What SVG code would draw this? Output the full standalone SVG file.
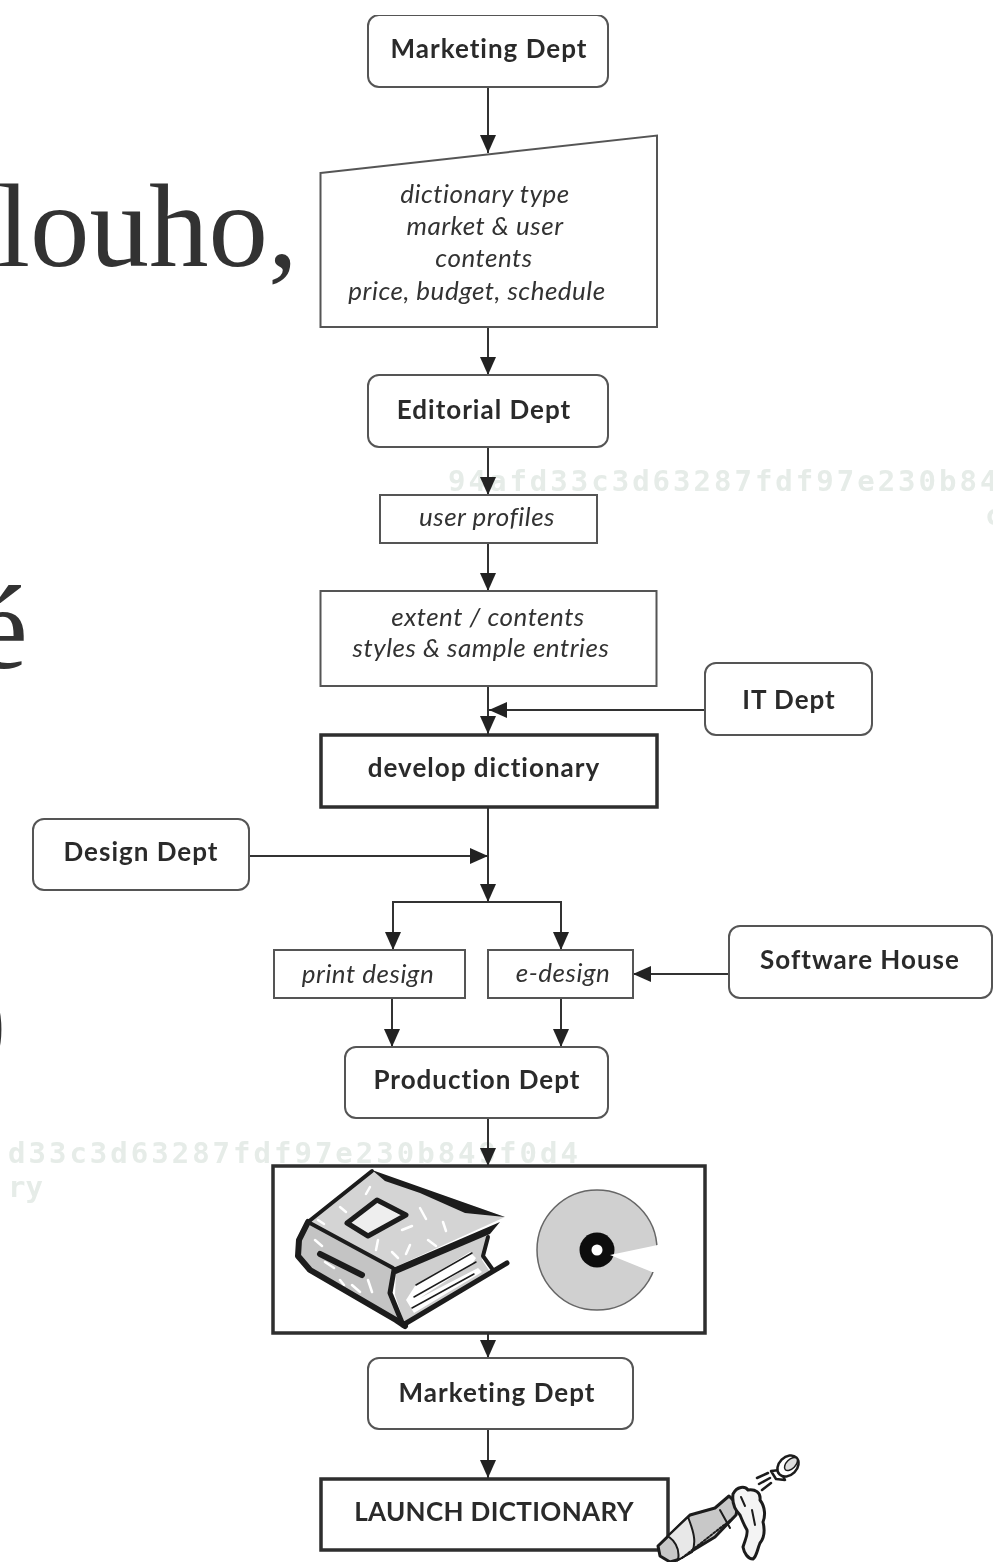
<svg xmlns="http://www.w3.org/2000/svg" width="993" height="1567" viewBox="0 0 993 1567">
<style>
.bg{font-family:"Liberation Serif",serif;font-size:119px;fill:#333}
.wm{font-family:"DejaVu Sans Mono",monospace;font-weight:700;font-size:29px;fill:#e6ece8;letter-spacing:3px}
.n{fill:#fff;stroke:#555;stroke-width:2}
.t{fill:#fff;stroke:#2e2e2e;stroke-width:3.5}
.b{font-family:Lato,"Liberation Sans",sans-serif;font-weight:700;font-size:26px;letter-spacing:1px;fill:#2c2c2c;text-anchor:middle}
.i{font-family:Lato,"Liberation Sans",sans-serif;font-style:italic;font-size:26px;letter-spacing:.5px;fill:#333;text-anchor:middle}
.c{fill:none;stroke:#333;stroke-width:2}
.s{fill:none;stroke:#1c1c1c;stroke-linecap:round;stroke-linejoin:round}
.w{fill:none;stroke:#fff;stroke-width:2.500;stroke-linecap:round}
</style>
<defs>
<marker id="a" markerWidth="20" markerHeight="18" refX="18" refY="8" orient="auto" markerUnits="userSpaceOnUse"><path d="M0 0L18 8L0 16Z" fill="#222"/></marker>
<filter id="soft" x="0" y="0" width="100%" height="100%"><feGaussianBlur stdDeviation="0.6"/></filter>
</defs>
<rect width="993" height="1567" fill="#fff"/>
<g filter="url(#soft)">
<g id="background-text">
<text class="bg" x="-3" y="266">louho,</text>
<text class="bg" x="-25" y="668">é</text>
<text class="bg" x="-33" y="1058">)</text>
<text class="wm" x="448" y="491">94afd33c3d63287fdf97e230b84</text>
<text class="wm" x="985" y="525">c</text>
<text class="wm" x="8" y="1163">d33c3d63287fdf97e230b849f0d4</text>
<text class="wm" x="8" y="1197" style="letter-spacing:0">ry</text>
</g>
<g id="connectors">
<path class="c" marker-end="url(#a)" d="M488 88V153"/>
<path class="c" marker-end="url(#a)" d="M488 327V375"/>
<path class="c" marker-end="url(#a)" d="M488 447V495"/>
<path class="c" marker-end="url(#a)" d="M488 543V591"/>
<path class="c" marker-end="url(#a)" d="M488 686V734"/>
<path class="c" marker-end="url(#a)" d="M705 710H489"/>
<path class="c" marker-end="url(#a)" d="M488 807V902"/>
<path class="c" marker-end="url(#a)" d="M249 856H488"/>
<path class="c" marker-end="url(#a)" d="M488 902H393V950"/>
<path class="c" marker-end="url(#a)" d="M488 902H561V950"/>
<path class="c" marker-end="url(#a)" d="M729 974H633"/>
<path class="c" marker-end="url(#a)" d="M392 998V1047"/>
<path class="c" marker-end="url(#a)" d="M561 998V1047"/>
<path class="c" marker-end="url(#a)" d="M488 1118V1166"/>
<path class="c" marker-end="url(#a)" d="M488 1334V1358"/>
<path class="c" marker-end="url(#a)" d="M488 1430V1478"/>
</g>
<g id="marketing-top"><rect class="n" x="368" y="15" width="240" height="72" rx="11"/><text class="b" x="489" y="58">Marketing Dept</text></g>
<g id="brief"><path class="n" d="M320.500 173L657 135.500V327H320.500Z"/>
<text class="i" x="485" y="203">dictionary type</text><text class="i" x="485" y="235">market &amp; user</text><text class="i" x="484" y="267">contents</text><text class="i" x="477" y="300">price, budget, schedule</text></g>
<g id="editorial"><rect class="n" x="368" y="375" width="240" height="72" rx="11"/><text class="b" x="484" y="419">Editorial Dept</text></g>
<g id="user-profiles"><rect class="n" x="380" y="495" width="217" height="48"/><text class="i" x="487" y="526">user profiles</text></g>
<g id="extent"><rect class="n" x="320.500" y="591" width="336" height="95"/><text class="i" x="488" y="626">extent / contents</text><text class="i" x="481" y="657">styles &amp; sample entries</text></g>
<g id="it-dept"><rect class="n" x="705" y="663" width="167" height="72" rx="11"/><text class="b" x="789" y="709">IT Dept</text></g>
<g id="develop"><rect class="t" x="321" y="735" width="336" height="72"/><text class="b" x="484" y="777">develop dictionary</text></g>
<g id="design-dept"><rect class="n" x="33" y="819" width="216" height="71" rx="11"/><text class="b" x="141" y="861">Design Dept</text></g>
<g id="print-design"><rect class="n" x="274" y="950" width="191" height="48"/><text class="i" x="368" y="983">print design</text></g>
<g id="e-design"><rect class="n" x="488" y="950" width="145" height="48"/><text class="i" x="563" y="982">e-design</text></g>
<g id="software-house"><rect class="n" x="729" y="926" width="263" height="72" rx="11"/><text class="b" x="860" y="969">Software House</text></g>
<g id="production"><rect class="n" x="345" y="1047" width="263" height="71" rx="11"/><text class="b" x="477" y="1089">Production Dept</text></g>
<g id="products"><rect class="t" x="273" y="1166" width="432" height="167"/>
<path d="M372 1171L505 1217L393 1268L308 1222Z" fill="#d4d4d4"/>
<path d="M308 1222L393 1268L392 1295L405 1325L300 1262L298 1248Z" fill="#c4c4c4"/>
<path d="M396 1272L487 1232L482 1260L490 1272L405 1325L395 1295Z" fill="#cfcfcf"/>
<path class="w" d="M370 1187L366 1194M420 1208L426 1219M443 1222L446 1231M402 1230L412 1226M428 1240L436 1246M378 1240L376 1250M410 1245L406 1254M392 1252L398 1258M340 1207L346 1212M318 1220L324 1224"/>
<path d="M415 1286L470 1252L476 1258L472 1264L420 1298L478 1268L482 1272L414 1313L406 1300Z" fill="#fff"/>
<path class="s" stroke-width="1.500" d="M416 1285L472 1253M414 1297L476 1262M412 1308L474 1274"/>
<path class="w" d="M315 1240L322 1246M325 1262L334 1268M352 1285L360 1292M368 1280L372 1292M340 1280L344 1285"/>
<path class="s" stroke-width="4" d="M372 1171L308 1222L393 1268"/>
<path d="M372 1170L505 1217L465 1213L420 1193L385 1181Z" fill="#1c1c1c"/>
<path d="M393 1268L500 1222L490 1234L396 1274Z" fill="#1c1c1c"/>
<path class="s" stroke-width="6" d="M308 1222L299 1240L298 1256L310 1270L396 1320L405 1326"/>
<path class="s" stroke-width="5" d="M394 1270L390 1293L403 1325L507 1263"/>
<path class="s" stroke-width="4" d="M488 1237L483 1256L493 1270"/>
<path fill="#eee" stroke="#1c1c1c" stroke-width="5" stroke-linejoin="round" d="M377 1200L406 1215L368 1236L347 1223Z"/>
<path class="s" stroke-width="6" d="M320 1254L362 1275"/>
<circle cx="597" cy="1250" r="60" fill="#d0d0d0" stroke="#666" stroke-width="1.500"/>
<circle cx="597" cy="1250" r="17.500" fill="#111"/>
<circle cx="597" cy="1250" r="5.500" fill="#fff"/>
<path d="M610 1255L660 1244.500V1272L652 1272Z" fill="#fff"/>
</g>
<g id="marketing-bottom"><rect class="n" x="368" y="1358" width="265" height="71" rx="11"/><text class="b" x="497" y="1402">Marketing Dept</text></g>
<g id="launch"><rect class="t" x="321" y="1479" width="347" height="71"/><text class="b" x="494" y="1521" style="letter-spacing:.35px">LAUNCH DICTIONARY</text></g>
<g id="bottle">
<path fill="#c8c8c8" stroke="#1c1c1c" stroke-width="3" stroke-linejoin="round" d="M658 1546L690 1515L715 1508L729 1496L738 1505L736 1515L715 1537L677 1560L670 1562L660 1556Z"/>
<path fill="#e8e8e8" stroke="#1c1c1c" stroke-width="2" d="M668 1536L688 1517C693 1530 697 1542 692 1552L678 1560C680 1550 676 1542 668 1536Z"/>
<path class="s" stroke-width="2" stroke-dasharray="2 2" d="M682 1558L733 1518"/>
<path class="s" stroke-width="2" d="M720 1510L730 1528"/>
<path fill="#f4f4f4" stroke="#1c1c1c" stroke-width="3" stroke-linejoin="round" d="M733 1494C737 1486 745 1486 748 1490C755 1489 761 1492 760 1500C766 1508 765 1517 763 1522C765 1530 764 1538 760 1543C757 1550 757 1556 753 1559C748 1559 744 1553 743 1547C745 1540 748 1535 747 1530C744 1525 742 1520 740 1515C735 1510 732 1502 733 1494Z"/>
<path class="s" stroke-width="2" d="M752 1510L755 1525M741 1497L745 1506"/>
<path class="s" stroke-width="2.500" d="M757 1478L768 1473M759 1484L770 1478M762 1490L771 1483"/>
<path fill="#fff" stroke="#1c1c1c" stroke-width="2.500" stroke-linejoin="round" d="M771 1471L780 1470L785 1480L776 1479Z"/>
<ellipse cx="788" cy="1466" rx="9" ry="12" transform="rotate(45 788 1466)" fill="#fff" stroke="#1c1c1c" stroke-width="2.500"/>
<ellipse cx="791" cy="1464" rx="4.500" ry="8" transform="rotate(45 791 1464)" fill="#ddd" stroke="#1c1c1c" stroke-width="1.500"/>
</g>
</g>
</svg>
